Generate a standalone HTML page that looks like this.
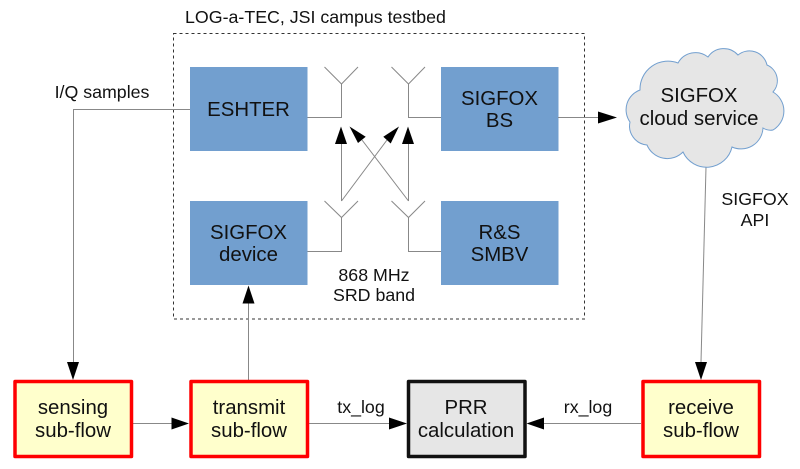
<!DOCTYPE html>
<html>
<head>
<meta charset="utf-8">
<style>
html,body{margin:0;padding:0;background:#fff}
svg{display:block}
text{font-family:"Liberation Sans",sans-serif;fill:#111;text-anchor:middle;font-size:20.4px}
.s{font-size:17.8px}
.l{fill:none;stroke:#888;stroke-width:1}
</style>
</head>
<body>
<svg width="800" height="469" viewBox="0 0 800 469" xmlns="http://www.w3.org/2000/svg">
<rect x="173.5" y="33.5" width="411" height="285.5" fill="none" stroke="#333" stroke-width="1" stroke-dasharray="3 3"/>
<g fill="#729fcf">
<rect x="190" y="67" width="117.500" height="84"/>
<rect x="441" y="67" width="117.500" height="84"/>
<rect x="190" y="201" width="117.500" height="84"/>
<rect x="441" y="201" width="117.500" height="84"/>
</g>
<g class="l">
<path d="M324.500 67L341.500 84L358 67M341.500 84V117.500H307.500"/>
<path d="M391.500 67L408.500 84L425 67M408.500 84V117.500H441"/>
<path d="M324.500 201L341.500 217.500L358 201M341.500 217.500V251.500H307.500"/>
<path d="M391.500 201L408.500 217.500L425 201M408.500 217.500V251.500H441"/>
<path d="M341.500 201V143M408.500 201V143M341.500 201L387 140M408.500 201L362 140"/>
<path d="M190 109.500H73.500V362"/>
<path d="M248.500 380V303"/>
<path d="M558 117.500H598"/>
<path d="M706 167L701 362"/>
<path d="M133 423.500H172M309 423.500H390M641 423.500H544"/>
</g>
<g fill="#000">
<path d="M341 126.500L347 144H335Z"/>
<path d="M408 126.500L414 144H402Z"/>
<path d="M399 126.500L390.700 143.500L383.300 136.700Z"/>
<path d="M349.500 126.500L365.700 136.700L358 143Z"/>
<path d="M248.500 285.500L254.500 303.500H242.500Z"/>
<path d="M73 380L79 362H67Z"/>
<path d="M701 380L707 362H695Z"/>
<path d="M617 117.500L598 111.500V123.500Z"/>
<path d="M189 423.500L171.500 417.500V429.500Z"/>
<path d="M407 423.500L389 417.500V429.500Z"/>
<path d="M526.500 423.500L544 417.500V429.500Z"/>
</g>
<path d="M640 90A28 28 0 0 1 678 63A20 20 0 0 1 708 57A19 19 0 0 1 738 55A18 18 0 0 1 767 65A17 17 0 0 1 773 92A22 22 0 0 1 773 130Q768 131 763 128A22 22 0 0 1 732 147A26 26 0 0 1 683 152A22 22 0 0 1 647 145A19 19 0 0 1 630 122A21 21 0 0 1 640 90Z" fill="#e6e6e6" stroke="#729fcf" stroke-width="1"/>
<g fill="#ffffcc" stroke="#ff0000" stroke-width="3.500" stroke-linejoin="round">
<rect x="15" y="381.500" width="116.500" height="75"/>
<rect x="191" y="381.500" width="116.500" height="75"/>
<rect x="643" y="381.500" width="116.500" height="75"/>
</g>
<rect x="408.500" y="381.500" width="116.500" height="75" fill="#e6e6e6" stroke="#111" stroke-width="3.500" stroke-linejoin="round"/>
<text x="248.500" y="116">ESHTER</text>
<text x="499.500" y="105">SIGFOX</text>
<text x="499.500" y="127">BS</text>
<text x="248.500" y="239">SIGFOX</text>
<text x="248.500" y="261">device</text>
<text x="499.500" y="239">R&amp;S</text>
<text x="499.500" y="261">SMBV</text>
<text x="699" y="102">SIGFOX</text>
<text x="699" y="125">cloud service</text>
<text x="73" y="414">sensing</text>
<text x="73" y="437">sub-flow</text>
<text x="249" y="414">transmit</text>
<text x="249" y="437">sub-flow</text>
<text x="466" y="414">PRR</text>
<text x="466" y="437">calculation</text>
<text x="701" y="414">receive</text>
<text x="701" y="437">sub-flow</text>
<text class="s" x="315.500" y="23">LOG-a-TEC, JSI campus testbed</text>
<text class="s" x="102" y="98">I/Q samples</text>
<text class="s" x="374" y="281">868 MHz</text>
<text class="s" x="374" y="301">SRD band</text>
<text class="s" x="755" y="205">SIGFOX</text>
<text class="s" x="755" y="226">API</text>
<text class="s" x="361" y="413">tx_log</text>
<text class="s" x="588" y="413">rx_log</text>
</svg>
</body>
</html>
